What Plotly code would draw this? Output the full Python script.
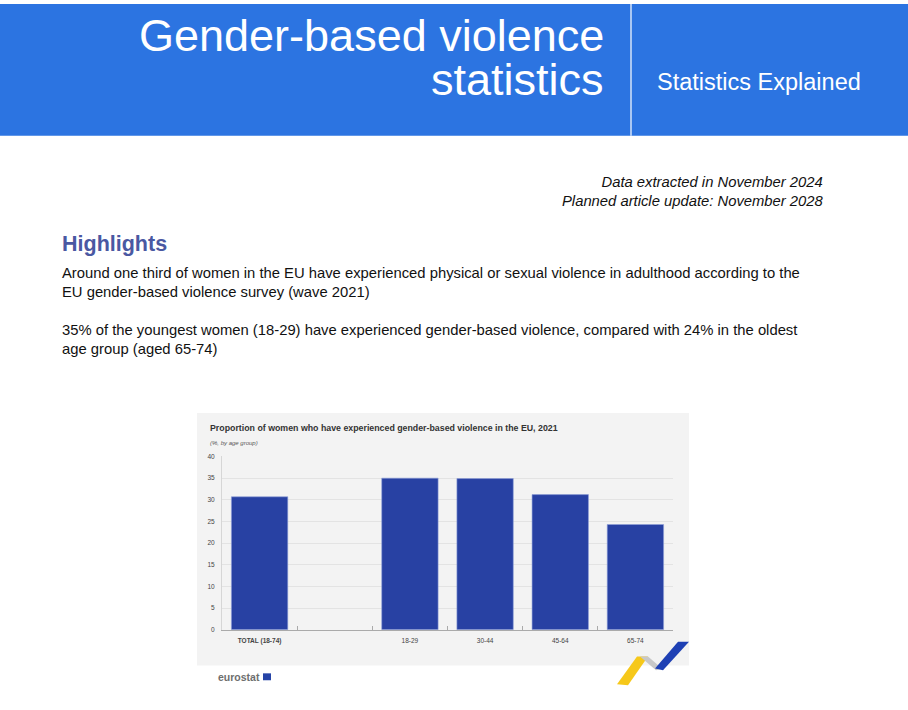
import plotly.graph_objects as go

# chart data
categories = ["TOTAL (18-74)", " ", "18-29", "30-44", "45-64", "65-74"]
values = [30.7, None, 35.0, 34.9, 31.2, 24.3]
y_ticks = [0, 5, 10, 15, 20, 25, 30, 35, 40]

# page texts
header_title = ["Gender-based violence", "statistics"]
header_side = "Statistics Explained"
dates_text = ["Data extracted in November 2024", "Planned article update: November 2028"]
highlights_title = "Highlights"
paragraphs = [
    "Around one third of women in the EU have experienced physical or sexual violence in adulthood according to the<br>"
    "EU gender-based violence survey (wave 2021)",
    "35% of the youngest women (18-29) have experienced gender-based violence, compared with 24% in the oldest<br>"
    "age group (aged 65-74)",
]
chart_title = "Proportion of women who have experienced gender-based violence in the EU, 2021"
chart_subtitle = "(%, by age group)"

W, H = 908, 710


def px(x):
    return x / W


def py(y):
    return 1 - y / H


HEADER_BLUE = "#2C74E1"
BAR_BLUE = "#2841A3"
PANEL = "#F3F3F3"
SANS = "Liberation Sans, Arial, sans-serif"

fig = go.Figure()

fig.add_trace(go.Bar(
    x=categories,
    y=values,
    marker=dict(color=BAR_BLUE, line=dict(color="#8FA0D8", width=0.6)),
    width=0.75,
    hoverinfo="x+y",
))

tick_text = ["<b>" + categories[0] + "</b>"] + categories[1:]

fig.update_layout(
    width=W,
    height=H,
    margin=dict(l=0, r=0, t=0, b=0),
    paper_bgcolor="white",
    plot_bgcolor=PANEL,
    showlegend=False,
    bargap=0.25,
    xaxis=dict(
        domain=[px(222), px(673)],
        type="category",
        tickvals=categories,
        ticktext=tick_text,
        tickson="boundaries",
        ticks="inside",
        ticklen=4,
        tickcolor="#AAAAAA",
        showline=True,
        linecolor="#AAAAAA",
        linewidth=1,
        showgrid=False,
        tickfont=dict(family=SANS, size=6.5, color="#444444"),
        ticklabelstandoff=4,
    ),
    yaxis=dict(
        domain=[py(632), py(457)],
        range=[0, 40],
        tickvals=y_ticks,
        showline=True,
        linecolor="#D6D6D6",
        gridcolor="#E3E3E3",
        gridwidth=1,
        zeroline=False,
        ticks="",
        tickfont=dict(family=SANS, size=6.5, color="#444444"),
        ticklabelstandoff=5,
    ),
)

shapes = []
# header band and divider
shapes.append(dict(type="rect", xref="paper", yref="paper", x0=0, x1=1, y0=py(133), y1=1,
                   fillcolor=HEADER_BLUE, line=dict(width=0), layer="below"))
shapes.append(dict(type="line", xref="paper", yref="paper", x0=px(631), x1=px(631), y0=py(133), y1=1,
                   line=dict(color="white", width=1.2)))
# chart panel
shapes.append(dict(type="rect", xref="paper", yref="paper", x0=px(197), x1=px(689), y0=py(668), y1=py(413),
                   fillcolor=PANEL, line=dict(width=0), layer="below"))
# EU flag next to the eurostat logo
shapes.append(dict(type="rect", xref="paper", yref="paper", x0=px(263), x1=px(271), y0=py(683), y1=py(676),
                   fillcolor="#2644A7", line=dict(width=0)))


def poly(points, color):
    d = "M " + " L ".join(f"{px(x):.5f},{py(y):.5f}" for x, y in points) + " Z"
    return dict(type="path", xref="paper", yref="paper", path=d, fillcolor=color, line=dict(width=0))


# ribbon decoration
shapes.append(poly([(637, 659), (648, 659), (628, 688), (617, 687)], "#F6C81A"))
shapes.append(poly([(640, 659), (648, 659), (662, 671), (656, 673)], "#C8C8C8"))
shapes.append(poly([(655, 671), (663, 673), (689, 644), (678, 644)], "#1E40B4"))
fig.update_layout(shapes=shapes)

annotations = []
# the two title lines sit closer than a normal line break, so each gets a fixed-height box
annotations.append(dict(text=header_title[0], x=px(606), y=py(31), xanchor="right", yanchor="middle",
                        height=44, valign="middle", font=dict(family=SANS, size=45, color="white")))
annotations.append(dict(text=header_title[1], x=px(606), y=py(76), xanchor="right", yanchor="middle",
                        height=44, valign="middle", font=dict(family=SANS, size=45, color="white")))
annotations.append(dict(text=header_side, x=px(655), y=py(79), xanchor="left", yanchor="middle",
                        font=dict(family=SANS, size=23.5, color="white")))
annotations.append(dict(text="<i>" + "<br>".join(dates_text) + "</i>", x=px(826), y=py(189.5),
                        xanchor="right", yanchor="middle", align="right",
                        font=dict(family=SANS, size=14.8, color="#111111")))
annotations.append(dict(text="<b>" + highlights_title + "</b>", x=px(60), y=py(242), xanchor="left",
                        yanchor="middle", font=dict(family=SANS, size=21.5, color="#4A58A2")))
annotations.append(dict(text=paragraphs[0], x=px(60), y=py(281), xanchor="left", yanchor="middle",
                        align="left", font=dict(family=SANS, size=14.8, color="#111111")))
annotations.append(dict(text=paragraphs[1], x=px(60), y=py(339), xanchor="left", yanchor="middle",
                        align="left", font=dict(family=SANS, size=14.8, color="#111111")))
annotations.append(dict(text="<b>" + chart_title + "</b>", x=px(208), y=py(428), xanchor="left",
                        yanchor="middle", font=dict(family=SANS, size=8.8, color="#333333")))
annotations.append(dict(text="<i>" + chart_subtitle + "</i>", x=px(208), y=py(443), xanchor="left",
                        yanchor="middle", font=dict(family=SANS, size=6, color="#555555")))
annotations.append(dict(text="<b>eurostat</b>", x=px(216), y=py(679.5), xanchor="left", yanchor="middle",
                        font=dict(family=SANS, size=10.5, color="#6E6E6E")))
for a in annotations:
    a.update(xref="paper", yref="paper", showarrow=False)
fig.update_layout(annotations=annotations)

# drop the default page margin so the header band reaches the window edges
fig.write_html("out.html", config={"displayModeBar": False},
               post_script="document.body.style.margin = '0';")
